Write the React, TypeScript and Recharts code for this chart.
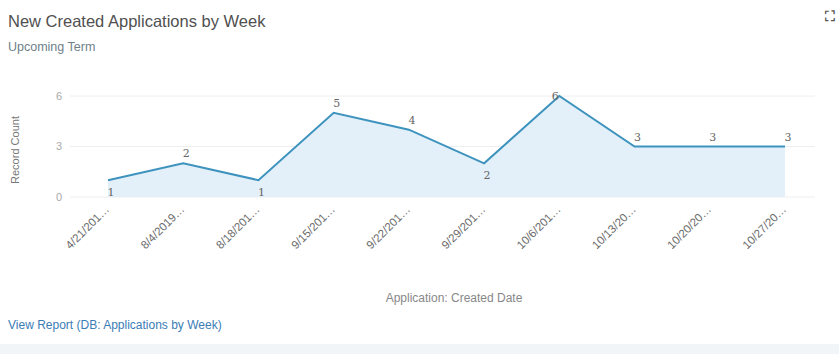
import { AreaChart, Area, CartesianGrid, XAxis, YAxis } from 'recharts';

// weekly buckets, labels are truncated the same way the dashboard does it
const weeks = [
  '4/21/201…', '8/4/2019…', '8/18/201…', '9/15/201…', '9/22/201…',
  '9/29/201…', '10/6/201…', '10/13/20…', '10/20/20…', '10/27/20…',
];
const recordCounts = [1, 2, 1, 5, 4, 2, 6, 3, 3, 3];
const yTicks = [0, 3, 6];

const data = weeks.map((week, i) => ({ week, count: recordCounts[i] }));

const FONT = '"Liberation Sans", Arial, sans-serif';

const AngledTick = (props: any) => {
  const { x, y, payload } = props;
  return (
    <g transform={`translate(${x + 2},${y + 5})`}>
      <text textAnchor="end" transform="rotate(-45)" fontSize={11.5} fill="#6a6a6a" fontFamily={FONT}>
        {payload.value}
      </text>
    </g>
  );
};

// put the number under the point when it is a dip, otherwise above
const PointLabel = (props: any) => {
  const { x, y, index, value } = props;
  const prev = index > 0 ? recordCounts[index - 1] : Infinity;
  const next = index < recordCounts.length - 1 ? recordCounts[index + 1] : Infinity;
  const below = value < prev && value < next;
  const isPeak = value === 6;
  return (
    <text
      x={isPeak ? x - 4 : x + 3}
      y={below ? y + 16 : isPeak ? y + 4 : y - 6}
      textAnchor="middle"
      fontSize={11}
      fill="#666"
      fontFamily="'DejaVu Serif', serif"
    >
      {value}
    </text>
  );
};

const App = () => {
  return (
    <div style={{ position: 'absolute', top: 0, left: 0, width: 839, height: 354, background: '#fff', fontFamily: FONT, overflow: 'hidden' }}>
      <div style={{ position: 'absolute', left: 8, top: 12, fontSize: 16.5, color: '#505050' }}>
        New Created Applications by Week
      </div>
      <div style={{ position: 'absolute', left: 8, top: 40, fontSize: 12.5, color: '#6f7f8a' }}>
        Upcoming Term
      </div>
      <div style={{ position: 'absolute', left: 825, top: 8, fontSize: 14, fontWeight: 'bold', color: '#555' }}>⛶</div>

      <AreaChart
        width={839}
        height={354}
        data={data}
        margin={{ top: 96, right: 24, bottom: 57, left: 0 }}
        style={{ position: 'absolute', top: 0, left: 0 }}
      >
        <CartesianGrid horizontal vertical={false} stroke="#eeeeee" />
        <XAxis
          dataKey="week"
          axisLine={false}
          tickLine={false}
          height={100}
          interval={0}
          padding={{ left: 38, right: 30 }}
          tick={<AngledTick />}
        />
        <YAxis
          width={70}
          domain={[0, 6]}
          ticks={yTicks}
          axisLine={false}
          tickLine={false}
          tick={{ fontSize: 11, fill: '#aaa', fontFamily: FONT }}
        />
        <Area
          type="linear"
          dataKey="count"
          stroke="#3d93bd"
          strokeWidth={2}
          fill="#e3f0f9"
          fillOpacity={1}
          dot={false}
          activeDot={false}
          label={<PointLabel />}
          isAnimationActive={false}
        />
      </AreaChart>

      <div style={{ position: 'absolute', left: 15, top: 150, transform: 'translate(-50%,-50%) rotate(-90deg)', fontSize: 11, color: '#777', whiteSpace: 'nowrap' }}>
        Record Count
      </div>
      <div style={{ position: 'absolute', left: 454, top: 298, transform: 'translate(-50%,-50%)', fontSize: 12, color: '#888', whiteSpace: 'nowrap' }}>
        Application: Created Date
      </div>
      <div style={{ position: 'absolute', left: 8, top: 318, fontSize: 12, color: '#3a7db5' }}>
        View Report (DB: Applications by Week)
      </div>
      <div style={{ position: 'absolute', left: 0, top: 344, width: 839, height: 10, background: '#f1f5f7' }} />
    </div>
  );
};

export default App;
